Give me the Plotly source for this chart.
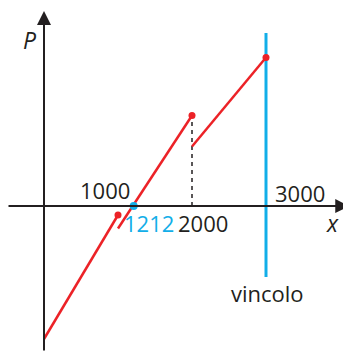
import plotly.graph_objects as go

# piecewise function P(x)
seg1_x = [0, 1000]
seg1_p = [-1330, -90]
seg2_x = [1000, 2000]
seg2_p = [-225, 905]
seg3_x = [2000, 3000]
seg3_p = [595, 1485]
dots_x = [1000, 2000, 3000]
dots_p = [-90, 905, 1485]
zero_x = 1212
vincolo_x = 3000
vincolo_p = [-710, 1730]

tick_labels = ["1000", "1212", "2000", "3000"]

RED = "#ec2227"
BLUE = "#12aee8"
DARK = "#231f20"
FONT = "Open Sans"

fig = go.Figure()

# vincolo line
fig.add_trace(go.Scatter(x=[vincolo_x, vincolo_x], y=vincolo_p, mode="lines",
                         line=dict(color=BLUE, width=3), hoverinfo="skip"))
# dashed line at 2000
fig.add_trace(go.Scatter(x=[seg3_x[0], seg3_x[0]], y=[0, seg2_p[1]], mode="lines",
                         line=dict(color=DARK, width=1.5, dash="4px,4px"), hoverinfo="skip"))
for sx, sp in [(seg1_x, seg1_p), (seg2_x, seg2_p), (seg3_x, seg3_p)]:
    fig.add_trace(go.Scatter(x=sx, y=sp, mode="lines",
                             line=dict(color=RED, width=2.5), hoverinfo="skip"))
fig.add_trace(go.Scatter(x=dots_x, y=dots_p, mode="markers",
                         marker=dict(color=RED, size=7), hoverinfo="skip"))
fig.add_trace(go.Scatter(x=[zero_x], y=[0], mode="markers",
                         marker=dict(color=BLUE, size=8), hoverinfo="skip"))

ann = []
# axes with arrows
ann.append(dict(x=4125, y=0, ax=-500, ay=0, xref="x", yref="y", axref="x", ayref="y",
                showarrow=True, arrowhead=2, arrowsize=1.4, arrowwidth=2, arrowcolor=DARK, text=""))
ann.append(dict(x=0, y=1950, ax=0, ay=-1460, xref="x", yref="y", axref="x", ayref="y",
                showarrow=True, arrowhead=2, arrowsize=1.4, arrowwidth=2, arrowcolor=DARK, text=""))

def txt(x, y, t, color=DARK, italic=False, size=22):
    return dict(x=x, y=y, xref="x", yref="y", text=t, showarrow=False,
                font=dict(family=FONT, size=size, color=color,
                          style="italic" if italic else "normal"),
                xanchor="center", yanchor="middle")

ann.append(txt(824, 160, tick_labels[0]))
ann.append(txt(1419, -170, tick_labels[1], color=BLUE))
ann.append(txt(2149, -170, tick_labels[2]))
ann.append(txt(3459, 130, tick_labels[3]))
ann.append(txt(3014, -870, "vincolo"))
ann.append(txt(-189, 1660, "P", italic=True, size=23))
ann.append(txt(3905, -170, "x", italic=True, size=23))

fig.update_layout(
    width=343, height=343, margin=dict(l=0, r=0, t=0, b=0),
    plot_bgcolor="white", paper_bgcolor="white", showlegend=False,
    xaxis=dict(visible=False, range=[-486.5, 4148.6], fixedrange=True),
    yaxis=dict(visible=False, range=[-1450, 1980], fixedrange=True),
    annotations=ann,
)

fig.write_html("out.html")
